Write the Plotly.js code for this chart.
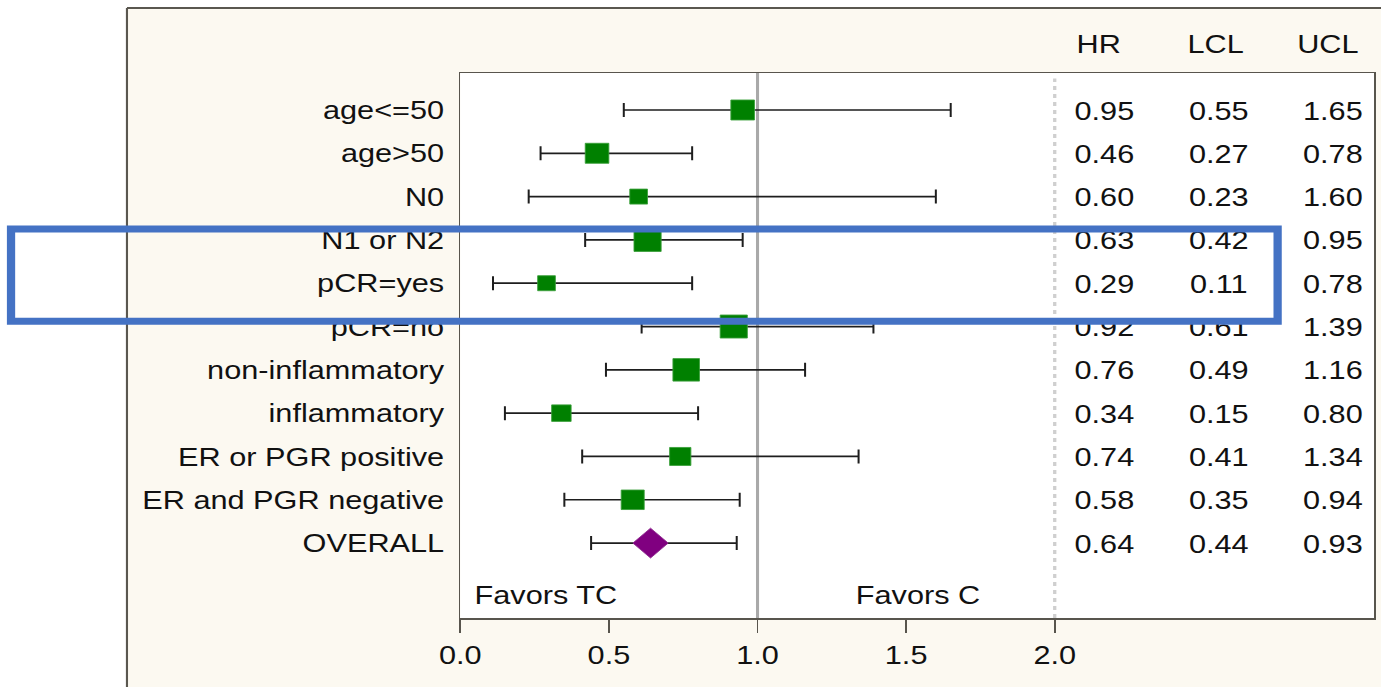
<!DOCTYPE html>
<html>
<head>
<meta charset="utf-8">
<script src="https://cdn.plot.ly/plotly-3.0.1.min.js"></script>
<style>
  html, body { margin: 0; padding: 0; overflow: hidden; background: #ffffff; }
  #chart { width: 1170px; height: 687px; transform: scaleX(1.18034); transform-origin: 0 0; }
</style>
</head>
<body>
<div id="chart"></div>
<script>
// ---- data ----
const subgroups = ["age<=50", "age>50", "N0", "N1 or N2", "pCR=yes", "pCR=no",
                   "non-inflammatory", "inflammatory", "ER or PGR positive", "ER and PGR negative"];
const subHR  = [0.95, 0.46, 0.60, 0.63, 0.29, 0.92, 0.76, 0.34, 0.74, 0.58];
const subLCL = [0.55, 0.27, 0.23, 0.42, 0.11, 0.61, 0.49, 0.15, 0.41, 0.35];
const subUCL = [1.65, 0.78, 1.60, 0.95, 0.78, 1.39, 1.16, 0.80, 1.34, 0.94];
const subWeight = [20, 20, 15, 23, 15, 23, 22.5, 16.5, 18, 19.5];

const overallLabel = "OVERALL";
const overallHR = [0.64];
const overallLCL = [0.44];
const overallUCL = [0.93];

const columnHeaders = ["HR", "LCL", "UCL"];
const xTickVals = [0, 0.5, 1, 1.5, 2];
const xTickText = ["0.0", "0.5", "1.0", "1.5", "2.0"];
const favorsLeft = "Favors TC";
const favorsRight = "Favors C";

// ---- build ----
const allLabels = subgroups.concat([overallLabel]);
const allHR = subHR.concat(overallHR);
const allLCL = subLCL.concat(overallLCL);
const allUCL = subUCL.concat(overallUCL);
const rowIdx = allLabels.map((_, i) => i);
const subIdx = subgroups.map((_, i) => i);
const ovIdx = [subgroups.length];

const FONT = "Liberation Sans, Arial, sans-serif";
const FS = 26;
const colX = [2.167, 2.552, 2.936];
const headX = [2.15, 2.54, 2.92];
const textDY = 0.07;   // small vertical nudge for value columns
const fmt = v => v.toFixed(2);

const traces = [
  {
    type: "scatter", mode: "markers", x: subHR, y: subIdx,
    marker: { symbol: "square", size: subWeight, color: "#008000", opacity: 1,
              line: { color: "#3a9e3a", width: 0.8 } },
    error_x: { type: "data", symmetric: false,
               array: subUCL.map((u, i) => u - subHR[i]),
               arrayminus: subLCL.map((l, i) => subHR[i] - l),
               color: "#1e1e1e", thickness: 1.7, width: 7 },
    opacity: 1, hoverinfo: "skip", showlegend: false
  },
  {
    type: "scatter", mode: "markers", x: overallHR, y: ovIdx,
    marker: { symbol: "diamond", size: 23, color: "#800080", opacity: 1,
              line: { color: "#8e2a8e", width: 0.8 } },
    error_x: { type: "data", symmetric: false,
               array: overallUCL.map((u, i) => u - overallHR[i]),
               arrayminus: overallLCL.map((l, i) => overallHR[i] - l),
               color: "#1e1e1e", thickness: 1.7, width: 7 },
    opacity: 1, hoverinfo: "skip", showlegend: false
  }
];

[allHR, allLCL, allUCL].forEach((vals, c) => {
  traces.push({
    type: "scatter", mode: "text",
    x: rowIdx.map(() => colX[c]), y: rowIdx.map(i => i + textDY),
    text: vals.map(fmt), textposition: "middle center",
    textfont: { family: FONT, size: FS, color: "#111111" },
    cliponaxis: false, hoverinfo: "skip", showlegend: false
  });
});

const annotations = columnHeaders.map((h, c) => ({
  text: h, x: headX[c], xref: "x", y: 1.0532, yref: "paper",
  xanchor: "center", yanchor: "middle", showarrow: false,
  font: { family: FONT, size: FS, color: "#111111" }
}));
annotations.push({
  text: favorsLeft, x: 0.04, xref: "x", y: 11.2, yref: "y",
  xanchor: "left", yanchor: "middle", showarrow: false,
  font: { family: FONT, size: FS, color: "#111111" }
});
annotations.push({
  text: favorsRight, x: 1.54, xref: "x", y: 11.2, yref: "y",
  xanchor: "center", yanchor: "middle", showarrow: false,
  font: { family: FONT, size: FS, color: "#111111" }
});

const panelLeft = -0.3649;   // paper x of outer panel border
const panelTop = 1.1193;     // paper y of outer panel border
const shapes = [
  { type: "rect", xref: "paper", yref: "paper", x0: -1, x1: panelLeft, y0: -1, y1: 2,
    fillcolor: "#ffffff", line: { width: 0 }, layer: "below" },
  { type: "rect", xref: "paper", yref: "paper", x0: -1, x1: 2, y0: panelTop, y1: 2,
    fillcolor: "#ffffff", line: { width: 0 }, layer: "below" },
  { type: "line", xref: "paper", yref: "paper", x0: panelLeft, x1: panelLeft, y0: -1, y1: panelTop,
    line: { color: "#5a574f", width: 1.8 }, layer: "below" },
  { type: "line", xref: "paper", yref: "paper", x0: panelLeft, x1: 2, y0: panelTop, y1: panelTop,
    line: { color: "#5a574f", width: 1.8 }, layer: "below" },
  { type: "line", xref: "x", yref: "paper", x0: 1, x1: 1, y0: 0, y1: 1,
    line: { color: "#a9a9a9", width: 2.6 }, layer: "below" },
  { type: "line", xref: "x", yref: "paper", x0: 2, x1: 2, y0: 0, y1: 0.99,
    line: { color: "#cfcfcf", width: 2.8, dash: "4px,4px" }, layer: "below" },
  { type: "rect", xref: "paper", yref: "y", x0: -0.4918, x1: 2.750 / 3.074, y0: 2.75, y1: 4.88,
    line: { color: "#4472C4", width: 7 }, fillcolor: "rgba(0,0,0,0)", layer: "above" }
];

const layout = {
  width: 1170, height: 687,
  margin: { l: 390, r: 6, t: 73, b: 69, pad: 0 },
  paper_bgcolor: "#fcf9f1",
  plot_bgcolor: "#ffffff",
  showlegend: false,
  font: { family: FONT, size: FS, color: "#111111" },
  xaxis: {
    range: [0, 3.074], tickvals: xTickVals, ticktext: xTickText,
    ticks: "outside", ticklen: 13, tickwidth: 1.5, tickcolor: "#58554d",
    showgrid: false, zeroline: false,
    showline: true, mirror: true, linecolor: "#58554d", linewidth: 1.5,
    tickfont: { family: FONT, size: FS, color: "#111111" }
  },
  yaxis: {
    range: [11.73, -0.854], tickvals: rowIdx, ticktext: allLabels,
    ticks: "", showgrid: false, zeroline: false,
    showline: true, mirror: true, linecolor: "#58554d", linewidth: 1.5,
    ticklabelstandoff: 7,
    tickfont: { family: FONT, size: FS, color: "#111111" }
  },
  shapes: shapes,
  annotations: annotations
};

Plotly.newPlot("chart", traces, layout, { staticPlot: true, displayModeBar: false });
</script>
</body>
</html>
